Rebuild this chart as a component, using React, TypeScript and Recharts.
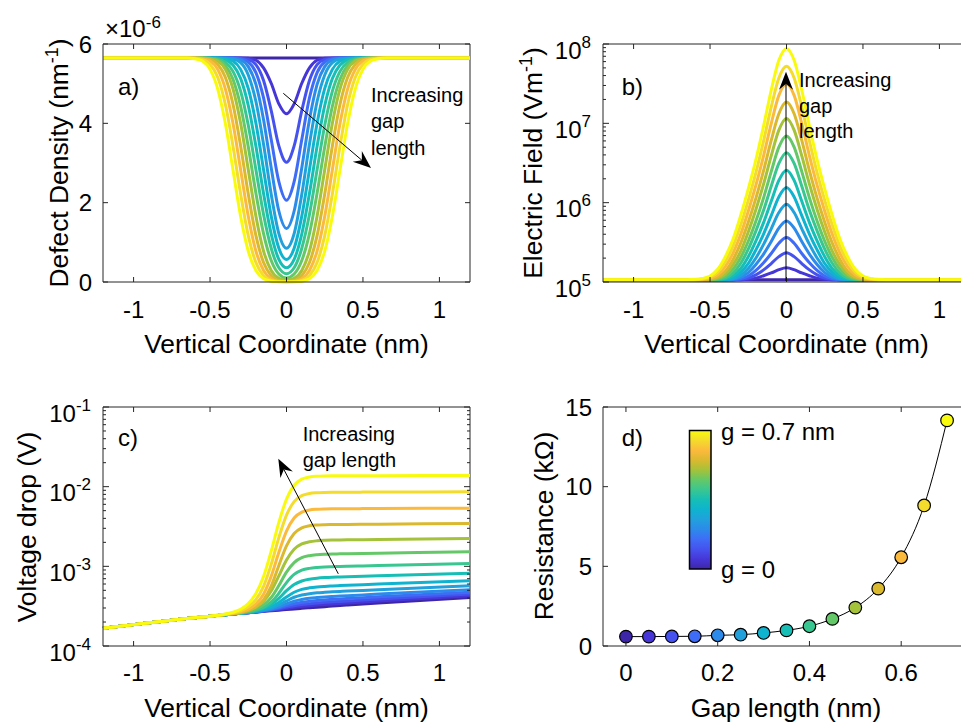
import React from 'react';
import { LineChart, Line, XAxis, YAxis, ReferenceLine } from 'recharts';

const FONT = '"Liberation Sans", Arial, Helvetica, sans-serif';
const AX = '#262626';

// ---- shared: gap lengths (nm) and their parula colours ----
const gapLengths = [0, 0.05, 0.1, 0.15, 0.2, 0.25, 0.3, 0.35, 0.4, 0.45, 0.5, 0.55, 0.6, 0.65, 0.7];
const curveColors = ['#3E26A8', '#4636D8', '#4652EE', '#3F6CF6', '#2C8AEA', '#22A0DC', '#0FB3CF', '#16BEB6',
  '#3AC691', '#64C868', '#A4C23A', '#DAB92F', '#FCBA3D', '#F4DC2C', '#F9FB0E'];

// ---- panels a, b: symmetric profiles sampled on |x| (nm) ----
const xHalf = [0, 0.05, 0.1, 0.15, 0.2, 0.25, 0.3, 0.35, 0.4, 0.45, 0.5, 0.55, 0.6, 0.65, 0.7, 1.2];

// defect density (nm^-1), one row per gap length
const defectDensity = [
  [5.65e-6, 5.65e-6, 5.65e-6, 5.65e-6, 5.65e-6, 5.65e-6, 5.65e-6, 5.65e-6, 5.65e-6, 5.65e-6, 5.65e-6, 5.65e-6, 5.65e-6, 5.65e-6, 5.65e-6, 5.65e-6],
  [4.24e-6, 4.49e-6, 5.01e-6, 5.40e-6, 5.59e-6, 5.64e-6, 5.65e-6, 5.65e-6, 5.65e-6, 5.65e-6, 5.65e-6, 5.65e-6, 5.65e-6, 5.65e-6, 5.65e-6, 5.65e-6],
  [3.02e-6, 3.43e-6, 4.32e-6, 5.08e-6, 5.48e-6, 5.61e-6, 5.64e-6, 5.65e-6, 5.65e-6, 5.65e-6, 5.65e-6, 5.65e-6, 5.65e-6, 5.65e-6, 5.65e-6, 5.65e-6],
  [2.06e-6, 2.53e-6, 3.59e-6, 4.64e-6, 5.28e-6, 5.55e-6, 5.63e-6, 5.65e-6, 5.65e-6, 5.65e-6, 5.65e-6, 5.65e-6, 5.65e-6, 5.65e-6, 5.65e-6, 5.65e-6],
  [1.35e-6, 1.79e-6, 2.88e-6, 4.09e-6, 4.98e-6, 5.43e-6, 5.60e-6, 5.64e-6, 5.65e-6, 5.65e-6, 5.65e-6, 5.65e-6, 5.65e-6, 5.65e-6, 5.65e-6, 5.65e-6],
  [0.85e-6, 1.22e-6, 2.21e-6, 3.47e-6, 4.55e-6, 5.22e-6, 5.53e-6, 5.62e-6, 5.64e-6, 5.65e-6, 5.65e-6, 5.65e-6, 5.65e-6, 5.65e-6, 5.65e-6, 5.65e-6],
  [0.57e-6, 0.85e-6, 1.66e-6, 2.83e-6, 4.00e-6, 4.88e-6, 5.36e-6, 5.57e-6, 5.63e-6, 5.65e-6, 5.65e-6, 5.65e-6, 5.65e-6, 5.65e-6, 5.65e-6, 5.65e-6],
  [0.36e-6, 0.57e-6, 1.21e-6, 2.23e-6, 3.42e-6, 4.45e-6, 5.13e-6, 5.47e-6, 5.60e-6, 5.64e-6, 5.65e-6, 5.65e-6, 5.65e-6, 5.65e-6, 5.65e-6, 5.65e-6],
  [0.21e-6, 0.36e-6, 0.85e-6, 1.70e-6, 2.83e-6, 3.95e-6, 4.81e-6, 5.31e-6, 5.54e-6, 5.62e-6, 5.64e-6, 5.65e-6, 5.65e-6, 5.65e-6, 5.65e-6, 5.65e-6],
  [0.10e-6, 0.20e-6, 0.54e-6, 1.22e-6, 2.24e-6, 3.41e-6, 4.43e-6, 5.11e-6, 5.46e-6, 5.60e-6, 5.64e-6, 5.65e-6, 5.65e-6, 5.65e-6, 5.65e-6, 5.65e-6],
  [0.04e-6, 0.09e-6, 0.29e-6, 0.78e-6, 1.66e-6, 2.83e-6, 4.00e-6, 4.87e-6, 5.36e-6, 5.57e-6, 5.63e-6, 5.65e-6, 5.65e-6, 5.65e-6, 5.65e-6, 5.65e-6],
  [0.02e-6, 0.04e-6, 0.16e-6, 0.49e-6, 1.17e-6, 2.22e-6, 3.43e-6, 4.48e-6, 5.16e-6, 5.49e-6, 5.61e-6, 5.64e-6, 5.65e-6, 5.65e-6, 5.65e-6, 5.65e-6],
  [0.01e-6, 0.02e-6, 0.08e-6, 0.29e-6, 0.78e-6, 1.66e-6, 2.83e-6, 4.00e-6, 4.87e-6, 5.36e-6, 5.57e-6, 5.63e-6, 5.65e-6, 5.65e-6, 5.65e-6, 5.65e-6],
  [0.00e-6, 0.01e-6, 0.04e-6, 0.16e-6, 0.49e-6, 1.17e-6, 2.22e-6, 3.43e-6, 4.48e-6, 5.16e-6, 5.49e-6, 5.61e-6, 5.64e-6, 5.65e-6, 5.65e-6, 5.65e-6],
  [0.00e-6, 0.00e-6, 0.02e-6, 0.08e-6, 0.29e-6, 0.78e-6, 1.66e-6, 2.83e-6, 4.00e-6, 4.87e-6, 5.36e-6, 5.57e-6, 5.63e-6, 5.65e-6, 5.65e-6, 5.65e-6],
];

// electric field (V/m), one row per gap length
const electricField = [
  [1.07e5, 1.07e5, 1.07e5, 1.07e5, 1.07e5, 1.07e5, 1.07e5, 1.07e5, 1.07e5, 1.07e5, 1.07e5, 1.07e5, 1.07e5, 1.07e5, 1.07e5, 1.07e5],
  [1.51e5, 1.43e5, 1.30e5, 1.20e5, 1.12e5, 1.08e5, 1.07e5, 1.07e5, 1.07e5, 1.07e5, 1.07e5, 1.07e5, 1.07e5, 1.07e5, 1.07e5, 1.07e5],
  [2.34e5, 2.09e5, 1.71e5, 1.42e5, 1.23e5, 1.12e5, 1.08e5, 1.07e5, 1.07e5, 1.07e5, 1.07e5, 1.07e5, 1.07e5, 1.07e5, 1.07e5, 1.07e5],
  [3.63e5, 3.08e5, 2.29e5, 1.75e5, 1.40e5, 1.19e5, 1.10e5, 1.07e5, 1.07e5, 1.07e5, 1.07e5, 1.07e5, 1.07e5, 1.07e5, 1.07e5, 1.07e5],
  [5.89e5, 4.79e5, 3.24e5, 2.25e5, 1.66e5, 1.31e5, 1.14e5, 1.08e5, 1.07e5, 1.07e5, 1.07e5, 1.07e5, 1.07e5, 1.07e5, 1.07e5, 1.07e5],
  [9.55e5, 7.50e5, 4.68e5, 2.98e5, 2.01e5, 1.48e5, 1.21e5, 1.10e5, 1.07e5, 1.07e5, 1.07e5, 1.07e5, 1.07e5, 1.07e5, 1.07e5, 1.07e5],
  [1.55e6, 1.18e6, 6.87e5, 4.02e5, 2.54e5, 1.71e5, 1.32e5, 1.13e5, 1.08e5, 1.07e5, 1.07e5, 1.07e5, 1.07e5, 1.07e5, 1.07e5, 1.07e5],
  [2.57e6, 1.91e6, 1.04e6, 5.60e5, 3.30e5, 2.08e5, 1.47e5, 1.20e5, 1.10e5, 1.07e5, 1.07e5, 1.07e5, 1.07e5, 1.07e5, 1.07e5, 1.07e5],
  [4.27e6, 3.12e6, 1.61e6, 8.02e5, 4.41e5, 2.59e5, 1.71e5, 1.29e5, 1.12e5, 1.08e5, 1.07e5, 1.07e5, 1.07e5, 1.07e5, 1.07e5, 1.07e5],
  [6.92e6, 5.00e6, 2.46e6, 1.15e6, 5.86e5, 3.26e5, 2.02e5, 1.44e5, 1.18e5, 1.09e5, 1.07e5, 1.07e5, 1.07e5, 1.07e5, 1.07e5, 1.07e5],
  [1.15e7, 8.20e6, 3.88e6, 1.71e6, 8.22e5, 4.28e5, 2.43e5, 1.64e5, 1.26e5, 1.12e5, 1.08e5, 1.07e5, 1.07e5, 1.07e5, 1.07e5, 1.07e5],
  [1.86e7, 1.32e7, 6.08e6, 2.53e6, 1.14e6, 5.68e5, 3.07e5, 1.91e5, 1.37e5, 1.16e5, 1.09e5, 1.07e5, 1.07e5, 1.07e5, 1.07e5, 1.07e5],
  [3.16e7, 2.25e7, 9.91e6, 3.90e6, 1.66e6, 7.80e5, 3.96e5, 2.30e5, 1.56e5, 1.23e5, 1.12e5, 1.08e5, 1.07e5, 1.07e5, 1.07e5, 1.07e5],
  [5.25e7, 3.73e7, 1.60e7, 5.97e6, 2.39e6, 1.07e6, 5.19e5, 2.81e5, 1.80e5, 1.33e5, 1.15e5, 1.09e5, 1.07e5, 1.07e5, 1.07e5, 1.07e5],
  [8.71e7, 6.24e7, 2.61e7, 9.23e6, 3.49e6, 1.49e6, 6.85e5, 3.46e5, 2.09e5, 1.45e5, 1.19e5, 1.11e5, 1.08e5, 1.07e5, 1.07e5, 1.07e5],
];

// ---- panel c: voltage drop (V) vs vertical coordinate (nm) ----
const xVolt = [-1.2, -0.6, -0.5, -0.45, -0.4, -0.35, -0.3, -0.25, -0.2, -0.15, -0.1, -0.05, 0, 0.05, 0.1, 0.15, 0.2, 0.25, 0.3, 0.35, 0.4, 0.5, 0.6, 1.2];
const voltageDrop = [
  [1.67e-4, 2.27e-4, 2.37e-4, 2.42e-4, 2.47e-4, 2.52e-4, 2.57e-4, 2.62e-4, 2.67e-4, 2.72e-4, 2.77e-4, 2.82e-4, 2.87e-4, 2.92e-4, 2.97e-4, 3.02e-4, 3.07e-4, 3.12e-4, 3.17e-4, 3.22e-4, 3.27e-4, 3.37e-4, 3.47e-4, 4.07e-4],
  [1.67e-4, 2.27e-4, 2.37e-4, 2.42e-4, 2.47e-4, 2.52e-4, 2.57e-4, 2.62e-4, 2.675e-4, 2.73e-4, 2.80e-4, 2.88e-4, 2.97e-4, 3.06e-4, 3.14e-4, 3.21e-4, 3.27e-4, 3.32e-4, 3.37e-4, 3.42e-4, 3.47e-4, 3.57e-4, 3.67e-4, 4.27e-4],
  [1.67e-4, 2.27e-4, 2.37e-4, 2.42e-4, 2.47e-4, 2.52e-4, 2.57e-4, 2.62e-4, 2.68e-4, 2.75e-4, 2.83e-4, 2.94e-4, 3.08e-4, 3.21e-4, 3.32e-4, 3.40e-4, 3.47e-4, 3.53e-4, 3.58e-4, 3.63e-4, 3.68e-4, 3.78e-4, 3.88e-4, 4.48e-4],
  [1.67e-4, 2.27e-4, 2.37e-4, 2.42e-4, 2.47e-4, 2.52e-4, 2.57e-4, 2.62e-4, 2.69e-4, 2.77e-4, 2.87e-4, 3.02e-4, 3.21e-4, 3.39e-4, 3.54e-4, 3.64e-4, 3.72e-4, 3.79e-4, 3.84e-4, 3.89e-4, 3.94e-4, 4.04e-4, 4.14e-4, 4.74e-4],
  [1.67e-4, 2.27e-4, 2.37e-4, 2.42e-4, 2.47e-4, 2.52e-4, 2.57e-4, 2.63e-4, 2.70e-4, 2.78e-4, 2.91e-4, 3.10e-4, 3.38e-4, 3.65e-4, 3.84e-4, 3.97e-4, 4.05e-4, 4.12e-4, 4.18e-4, 4.23e-4, 4.28e-4, 4.38e-4, 4.48e-4, 5.08e-4],
  [1.67e-4, 2.27e-4, 2.37e-4, 2.42e-4, 2.47e-4, 2.52e-4, 2.58e-4, 2.64e-4, 2.72e-4, 2.82e-4, 2.99e-4, 3.27e-4, 3.68e-4, 4.09e-4, 4.37e-4, 4.54e-4, 4.65e-4, 4.72e-4, 4.78e-4, 4.84e-4, 4.89e-4, 4.99e-4, 5.09e-4, 5.69e-4],
  [1.67e-4, 2.27e-4, 2.37e-4, 2.42e-4, 2.47e-4, 2.52e-4, 2.58e-4, 2.65e-4, 2.74e-4, 2.88e-4, 3.11e-4, 3.52e-4, 4.13e-4, 4.73e-4, 5.14e-4, 5.37e-4, 5.51e-4, 5.60e-4, 5.67e-4, 5.73e-4, 5.78e-4, 5.88e-4, 5.98e-4, 6.58e-4],
  [1.67e-4, 2.27e-4, 2.37e-4, 2.42e-4, 2.47e-4, 2.52e-4, 2.58e-4, 2.67e-4, 2.79e-4, 2.98e-4, 3.33e-4, 3.97e-4, 4.94e-4, 5.91e-4, 6.55e-4, 6.90e-4, 7.10e-4, 7.22e-4, 7.30e-4, 7.36e-4, 7.41e-4, 7.51e-4, 7.61e-4, 8.21e-4],
  [1.67e-4, 2.27e-4, 2.37e-4, 2.42e-4, 2.47e-4, 2.53e-4, 2.60e-4, 2.68e-4, 2.82e-4, 3.06e-4, 3.55e-4, 4.59e-4, 6.25e-4, 7.91e-4, 8.94e-4, 9.43e-4, 9.67e-4, 9.81e-4, 9.89e-4, 9.96e-4, 10.02e-4, 10.12e-4, 10.22e-4, 10.82e-4],
  [1.67e-4, 2.27e-4, 2.37e-4, 2.42e-4, 2.48e-4, 2.54e-4, 2.61e-4, 2.72e-4, 2.92e-4, 3.28e-4, 4.06e-4, 5.74e-4, 8.45e-4, 11.15e-4, 12.83e-4, 13.61e-4, 13.98e-4, 14.17e-4, 14.28e-4, 14.35e-4, 14.41e-4, 14.52e-4, 14.62e-4, 15.22e-4],
  [1.67e-4, 2.27e-4, 2.37e-4, 2.42e-4, 2.48e-4, 2.55e-4, 2.64e-4, 2.79e-4, 3.07e-4, 3.64e-4, 4.89e-4, 7.59e-4, 11.99e-4, 16.40e-4, 19.10e-4, 20.35e-4, 20.92e-4, 21.20e-4, 21.35e-4, 21.44e-4, 21.51e-4, 21.62e-4, 21.72e-4, 22.32e-4],
  [1.67e-4, 2.27e-4, 2.37e-4, 2.42e-4, 2.48e-4, 2.55e-4, 2.64e-4, 2.80e-4, 3.10e-4, 3.79e-4, 5.65e-4, 10.26e-4, 18.05e-4, 25.83e-4, 30.44e-4, 32.30e-4, 33.00e-4, 33.29e-4, 33.45e-4, 33.54e-4, 33.61e-4, 33.72e-4, 33.82e-4, 34.42e-4],
  [1.67e-4, 2.27e-4, 2.37e-4, 2.43e-4, 2.49e-4, 2.57e-4, 2.69e-4, 2.91e-4, 3.37e-4, 4.47e-4, 7.49e-4, 14.98e-4, 27.70e-4, 40.41e-4, 47.90e-4, 50.92e-4, 52.03e-4, 52.48e-4, 52.70e-4, 52.82e-4, 52.90e-4, 53.02e-4, 53.12e-4, 53.72e-4],
  [1.67e-4, 2.27e-4, 2.37e-4, 2.43e-4, 2.50e-4, 2.60e-4, 2.77e-4, 3.10e-4, 3.82e-4, 5.61e-4, 10.57e-4, 22.92e-4, 43.90e-4, 64.87e-4, 77.23e-4, 82.18e-4, 83.97e-4, 84.69e-4, 85.02e-4, 85.19e-4, 85.29e-4, 85.42e-4, 85.52e-4, 86.12e-4],
  [1.67e-4, 2.27e-4, 2.37e-4, 2.43e-4, 2.52e-4, 2.65e-4, 2.89e-4, 3.40e-4, 4.55e-4, 7.44e-4, 15.50e-4, 35.65e-4, 69.87e-4, 104.09e-4, 124.24e-4, 132.30e-4, 135.19e-4, 136.34e-4, 136.85e-4, 137.09e-4, 137.22e-4, 137.37e-4, 137.47e-4, 138.07e-4],
];

// ---- panel d: resistance (kOhm) vs gap length ----
const resistance = [0.59, 0.59, 0.60, 0.61, 0.67, 0.71, 0.82, 0.98, 1.24, 1.70, 2.41, 3.60, 5.57, 8.82, 14.16];

// ---- ticks ----
const coordTicks = [-1, -0.5, 0, 0.5, 1];
const coordTickLabels = ['-1', '-0.5', '0', '0.5', '1'];
const densityTicks = [0, 2e-6, 4e-6, 6e-6];
const densityTickLabels = ['0', '2', '4', '6'];
const fieldTicks = [1e5, 2e5, 3e5, 4e5, 5e5, 6e5, 7e5, 8e5, 9e5, 1e6, 2e6, 3e6, 4e6, 5e6, 6e6, 7e6, 8e6, 9e6,
  1e7, 2e7, 3e7, 4e7, 5e7, 6e7, 7e7, 8e7, 9e7, 1e8];
const fieldMajor = [1e5, 1e6, 1e7, 1e8];
const fieldMajorExp = ['5', '6', '7', '8'];
const voltTicks = [1e-4, 2e-4, 3e-4, 4e-4, 5e-4, 6e-4, 7e-4, 8e-4, 9e-4, 1e-3, 2e-3, 3e-3, 4e-3, 5e-3, 6e-3, 7e-3, 8e-3, 9e-3,
  1e-2, 2e-2, 3e-2, 4e-2, 5e-2, 6e-2, 7e-2, 8e-2, 9e-2, 1e-1];
const voltMajor = [1e-4, 1e-3, 1e-2, 1e-1];
const voltMajorExp = ['-4', '-3', '-2', '-1'];
const gapTicks = [0, 0.2, 0.4, 0.6];
const gapTickLabels = ['0', '0.2', '0.4', '0.6'];
const resTicks = [0, 5, 10, 15];
const resTickLabels = ['0', '5', '10', '15'];

// ---- table builders ----
function mirrorRows(xs: number[], series: number[][]) {
  const rows: Record<string, number>[] = [];
  for (let i = xs.length - 1; i > 0; i--) {
    const r: Record<string, number> = { x: -xs[i] };
    series.forEach((s, k) => { r['s' + k] = s[i]; });
    rows.push(r);
  }
  for (let i = 0; i < xs.length; i++) {
    const r: Record<string, number> = { x: xs[i] };
    series.forEach((s, k) => { r['s' + k] = s[i]; });
    rows.push(r);
  }
  return rows;
}
function plainRows(xs: number[], series: number[][]) {
  return xs.map((x, i) => {
    const r: Record<string, number> = { x };
    series.forEach((s, k) => { r['s' + k] = s[i]; });
    return r;
  });
}
const rowsA = mirrorRows(xHalf, defectDensity);
const rowsB = mirrorRows(xHalf, electricField);
const rowsC = plainRows(xVolt, voltageDrop);
const rowsD = gapLengths.map((g, i) => ({ x: g, r: resistance[i] }));

type Frame = { top: number; bottom: number; left: number; right: number };

const findLabel = (ticks: number[], labels: string[], v: number) => {
  const i = ticks.findIndex((t) => Math.abs(t - v) < Math.abs(v) * 1e-9 + 1e-12);
  return i >= 0 ? labels[i] : '';
};

const makeXTick = (f: Frame, ticks: number[], labels: string[], labelDy: number) => (props: any) => {
  const { x, payload } = props;
  return (
    <g>
      <line x1={x} x2={x} y1={f.bottom} y2={f.bottom - 5} stroke={AX} strokeWidth={1} />
      <line x1={x} x2={x} y1={f.top} y2={f.top + 5} stroke={AX} strokeWidth={1} />
      <text x={x} y={f.bottom + labelDy} textAnchor="middle" fontSize={24} fontFamily={FONT} fill="#000">
        {findLabel(ticks, labels, payload.value)}
      </text>
    </g>
  );
};

const makeYTick = (f: Frame, ticks: number[], labels: string[]) => (props: any) => {
  const { y, payload } = props;
  return (
    <g>
      <line x1={f.left} x2={f.left + 5} y1={y} y2={y} stroke={AX} strokeWidth={1} />
      <line x1={f.right} x2={f.right - 5} y1={y} y2={y} stroke={AX} strokeWidth={1} />
      <text x={f.left - 11} y={y + 8.5} textAnchor="end" fontSize={24} fontFamily={FONT} fill="#000">
        {findLabel(ticks, labels, payload.value)}
      </text>
    </g>
  );
};

const makeLogYTick = (f: Frame, majors: number[], exps: string[]) => (props: any) => {
  const { y, payload } = props;
  const lab = findLabel(majors, exps, payload.value);
  const len = lab ? 6 : 3;
  return (
    <g>
      <line x1={f.left} x2={f.left + len} y1={y} y2={y} stroke={AX} strokeWidth={1} />
      <line x1={f.right} x2={f.right - len} y1={y} y2={y} stroke={AX} strokeWidth={1} />
      {lab ? (
        <text x={f.left - 12} y={y + 14.5} textAnchor="end" fontSize={24} fontFamily={FONT} fill="#000">
          10<tspan dy={-11} fontSize={17}>{lab}</tspan>
        </text>
      ) : null}
    </g>
  );
};

const frameA: Frame = { top: 44, bottom: 282, left: 103, right: 470 };
const frameB: Frame = { top: 44, bottom: 282, left: 123, right: 490 };
const frameC: Frame = { top: 47, bottom: 286, left: 103, right: 470 };
const frameD: Frame = { top: 47, bottom: 286, left: 123, right: 490 };

function Arrow({ x1, y1, x2, y2 }: { x1: number; y1: number; x2: number; y2: number }) {
  const dx = x2 - x1, dy = y2 - y1;
  const len = Math.hypot(dx, dy);
  const ux = dx / len, uy = dy / len, nx = -uy, ny = ux;
  const L = 18, W = 7, N = 6;
  const bx = x2 - ux * L, by = y2 - uy * L;
  const mx = x2 - ux * (L - N), my = y2 - uy * (L - N);
  const pts = [[x2, y2], [bx + nx * W, by + ny * W], [mx, my], [bx - nx * W, by - ny * W]]
    .map((p) => p.join(',')).join(' ');
  return (
    <g>
      <line x1={x1} y1={y1} x2={mx} y2={my} stroke="#000" strokeWidth={1} />
      <polygon points={pts} fill="#000" />
    </g>
  );
}

const lineProps = { type: 'monotone' as const, strokeWidth: 3, dot: false, isAnimationActive: false, activeDot: false };

export default function App() {
  const txt = { fontFamily: FONT, fill: '#000' };
  return (
    <div style={{ position: 'fixed', left: 0, top: 0, width: 961, height: 723, overflow: 'hidden', background: '#fff' }}>
      {/* a) */}
      <div style={{ position: 'absolute', left: 0, top: 0 }}>
        <LineChart width={480} height={360} data={rowsA} margin={{ top: 44, right: 10, bottom: 0, left: 0 }}>
          <XAxis dataKey="x" type="number" domain={[-1.2, 1.2]} ticks={coordTicks} interval={0} height={78}
            tickLine={false} axisLine={{ stroke: AX }} tick={makeXTick(frameA, coordTicks, coordTickLabels, 36)} />
          <YAxis type="number" domain={[0, 6e-6]} ticks={densityTicks} interval={0} width={103}
            tickLine={false} axisLine={{ stroke: AX }} tick={makeYTick(frameA, densityTicks, densityTickLabels)} />
          <ReferenceLine y={6e-6} stroke={AX} />
          <ReferenceLine x={1.2} stroke={AX} />
          {defectDensity.map((_, k) => (
            <Line key={k} dataKey={'s' + k} stroke={curveColors[k]} {...lineProps} />
          ))}
        </LineChart>
      </div>
      {/* b) */}
      <div style={{ position: 'absolute', left: 480, top: 0 }}>
        <LineChart width={500} height={360} data={rowsB} margin={{ top: 44, right: 10, bottom: 0, left: 0 }}>
          <XAxis dataKey="x" type="number" domain={[-1.2, 1.2]} ticks={coordTicks} interval={0} height={78}
            tickLine={false} axisLine={{ stroke: AX }} tick={makeXTick(frameB, coordTicks, coordTickLabels, 36)} />
          <YAxis type="number" scale="log" domain={[1e5, 1e8]} ticks={fieldTicks} interval={0} width={123}
            allowDataOverflow tickLine={false} axisLine={{ stroke: AX }} tick={makeLogYTick(frameB, fieldMajor, fieldMajorExp)} />
          <ReferenceLine y={1e8} stroke={AX} />
          {electricField.map((_, k) => (
            <Line key={k} dataKey={'s' + k} stroke={curveColors[k]} {...lineProps} />
          ))}
        </LineChart>
      </div>
      {/* c) */}
      <div style={{ position: 'absolute', left: 0, top: 360 }}>
        <LineChart width={480} height={363} data={rowsC} margin={{ top: 47, right: 10, bottom: 0, left: 0 }}>
          <XAxis dataKey="x" type="number" domain={[-1.2, 1.2]} ticks={coordTicks} interval={0} height={77}
            tickLine={false} axisLine={{ stroke: AX }} tick={makeXTick(frameC, coordTicks, coordTickLabels, 34.5)} />
          <YAxis type="number" scale="log" domain={[1e-4, 1e-1]} ticks={voltTicks} interval={0} width={103}
            allowDataOverflow tickLine={false} axisLine={{ stroke: AX }} tick={makeLogYTick(frameC, voltMajor, voltMajorExp)} />
          <ReferenceLine y={1e-1} stroke={AX} />
          <ReferenceLine x={1.2} stroke={AX} />
          {voltageDrop.map((_, k) => (
            <Line key={k} dataKey={'s' + k} stroke={curveColors[k]} {...lineProps} />
          ))}
        </LineChart>
      </div>
      {/* d) */}
      <div style={{ position: 'absolute', left: 480, top: 360 }}>
        <LineChart width={500} height={363} data={rowsD} margin={{ top: 47, right: 10, bottom: 0, left: 0 }}>
          <XAxis dataKey="x" type="number" domain={[-0.05, 0.75]} ticks={gapTicks} interval={0} height={77}
            tickLine={false} axisLine={{ stroke: AX }} tick={makeXTick(frameD, gapTicks, gapTickLabels, 34.5)} />
          <YAxis type="number" domain={[0, 15]} ticks={resTicks} interval={0} width={123}
            tickLine={false} axisLine={{ stroke: AX }} tick={makeYTick(frameD, resTicks, resTickLabels)} />
          <ReferenceLine y={15} stroke={AX} />
          <Line dataKey="r" type="monotone" stroke="#000" strokeWidth={1} isAnimationActive={false} activeDot={false}
            dot={(p: any) => (
              <circle key={'m' + p.index} cx={p.cx} cy={p.cy} r={6.3} fill={curveColors[p.index]} stroke="#000" strokeWidth={1.2} />
            )} />
        </LineChart>
      </div>

      {/* annotations, titles */}
      <svg width={961} height={723} style={{ position: 'absolute', left: 0, top: 0, pointerEvents: 'none' }}>
        <defs>
          <linearGradient id="parulaBar" x1="0" y1="1" x2="0" y2="0">
            {curveColors.map((c, i) => (
              <stop key={i} offset={`${(i / (curveColors.length - 1)) * 100}%`} stopColor={c} />
            ))}
          </linearGradient>
        </defs>

        {/* a */}
        <text x={105} y={37} fontSize={24} {...txt}>×10<tspan dy={-9} fontSize={17}>-6</tspan></text>
        <text x={118} y={95} fontSize={24} {...txt}>a)</text>
        <text fontSize={20} {...txt}>
          <tspan x={371} y={101.5}>Increasing</tspan>
          <tspan x={371} y={128}>gap</tspan>
          <tspan x={371} y={154.5}>length</tspan>
        </text>
        <Arrow x1={283.3} y1={93.3} x2={371} y2={168} />
        <text transform="translate(68,163) rotate(-90)" textAnchor="middle" fontSize={26.4} {...txt}>
          Defect Density (nm<tspan dy={-10} fontSize={18}>-1</tspan><tspan dy={10}>)</tspan>
        </text>
        <text x={286.5} y={353} textAnchor="middle" fontSize={26.4} {...txt}>Vertical Coordinate (nm)</text>

        {/* b */}
        <text x={621.7} y={95} fontSize={24} {...txt}>b)</text>
        <Arrow x1={786} y1={281} x2={786} y2={71.7} />
        <text fontSize={20} {...txt}>
          <tspan x={799} y={86.5}>Increasing</tspan>
          <tspan x={799} y={112.5}>gap</tspan>
          <tspan x={799} y={138}>length</tspan>
        </text>
        <text transform="translate(542,163) rotate(-90)" textAnchor="middle" fontSize={26.4} {...txt}>
          Electric Field (Vm<tspan dy={-10} fontSize={18}>-1</tspan><tspan dy={10}>)</tspan>
        </text>
        <text x={786.5} y={353} textAnchor="middle" fontSize={26.4} {...txt}>Vertical Coordinate (nm)</text>

        {/* c */}
        <text x={118} y={446} fontSize={24} {...txt}>c)</text>
        <text fontSize={20} {...txt}>
          <tspan x={302.7} y={440.7}>Increasing</tspan>
          <tspan x={302.7} y={467.3}>gap length</tspan>
        </text>
        <Arrow x1={338.3} y1={573.8} x2={278.3} y2={458.8} />
        <text transform="translate(36,527) rotate(-90)" textAnchor="middle" fontSize={26.4} {...txt}>Voltage drop (V)</text>
        <text x={286.5} y={716.5} textAnchor="middle" fontSize={26.4} {...txt}>Vertical Coordinate (nm)</text>

        {/* d */}
        <text x={621.7} y={446} fontSize={24} {...txt}>d)</text>
        <rect x={689.5} y={430.5} width={21.5} height={138.5} fill="url(#parulaBar)" stroke="#000" strokeWidth={1.5} />
        <text x={721} y={440} fontSize={24} {...txt}>g = 0.7 nm</text>
        <text x={721} y={578} fontSize={24} {...txt}>g = 0</text>
        <text transform="translate(553,526) rotate(-90)" textAnchor="middle" fontSize={26.4} {...txt}>Resistance (kΩ)</text>
        <text x={786} y={716.5} textAnchor="middle" fontSize={26.4} {...txt}>Gap length (nm)</text>
      </svg>
    </div>
  );
}
